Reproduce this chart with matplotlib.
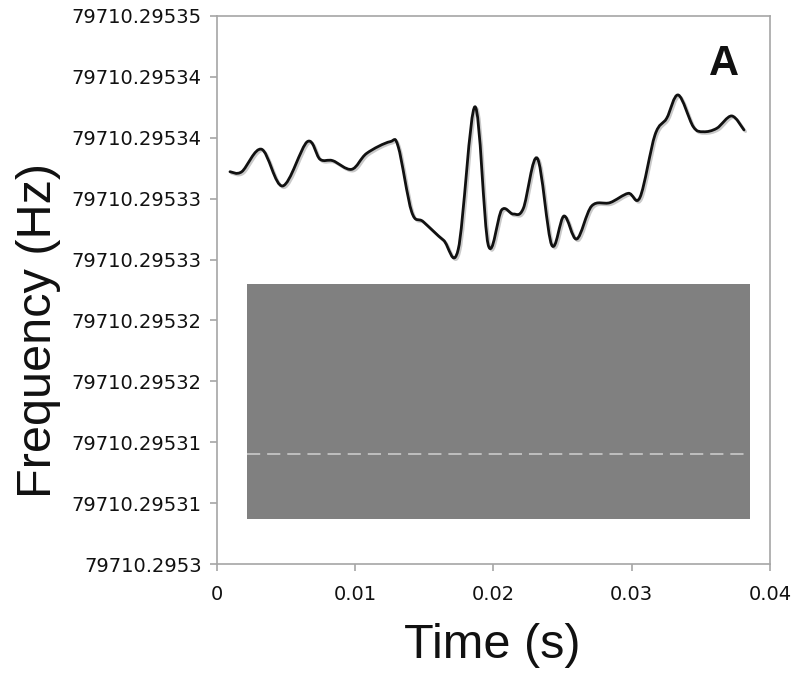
import matplotlib
matplotlib.use('Agg')
import matplotlib.pyplot as plt
import numpy as np
from matplotlib.path import Path
from matplotlib.patches import PathPatch
import matplotlib.patheffects as pe

# ---- data ----
base_hz = 79710.2953
time_s = [0.00094, 0.00179, 0.00323, 0.00475, 0.00653, 0.00745, 0.00837, 0.00974,
          0.01083, 0.01251, 0.01311, 0.01408, 0.01492, 0.01637, 0.01745, 0.01866,
          0.01962, 0.02059, 0.02143, 0.02216, 0.02317, 0.02421, 0.02510, 0.02602,
          0.02710, 0.02843, 0.02975, 0.03060, 0.03168, 0.03253, 0.03337, 0.03445,
          0.03518, 0.03615, 0.03723, 0.03812]
freq_offset_uHz = [35.79, 35.79, 37.84, 34.49, 38.53, 36.93, 36.80, 36.01,
                   37.47, 38.53, 38.07, 32.14, 31.23, 29.56, 28.71, 41.72,
                   29.11, 32.30, 31.93, 32.45, 37.02, 29.11, 31.75, 29.65,
                   32.66, 32.97, 33.82, 33.46, 39.14, 40.67, 42.79, 39.90,
                   39.44, 39.75, 40.88, 39.60]
band_time = [0.00217, 0.03855]
band_low_uHz = 4.11
band_high_uHz = 25.55
band_mean_uHz = 10.04

y_min_hz = 79710.29530
y_max_hz = 79710.29535
ytick_labels = ["79710.2953", "79710.29531", "79710.29531", "79710.29532",
                "79710.29532", "79710.29533", "79710.29533", "79710.29534",
                "79710.29534", "79710.29535"]
xticks = [0, 0.01, 0.02, 0.03, 0.04]
xtick_labels = ["0", "0.01", "0.02", "0.03", "0.04"]

freq = [base_hz + v * 1e-6 for v in freq_offset_uHz]

plt.rcParams['lines.scale_dashes'] = False

fig = plt.figure(figsize=(7.96, 6.77), dpi=100)
ax = fig.add_axes([0.2726, 0.1669, 0.6947, 0.8095])
ax.set_xlim(0, 0.04)
ax.set_ylim(y_min_hz, y_max_hz)

# grey band
ax.fill_between(band_time, [base_hz + band_low_uHz * 1e-6] * 2,
                [base_hz + band_high_uHz * 1e-6] * 2, color='#808080', lw=0, zorder=1)
ax.plot(band_time, [base_hz + band_mean_uHz * 1e-6] * 2, color='#c4c4c4',
        lw=1.3, dashes=(9.5, 5), zorder=2)

# smoothed line (Catmull-Rom rendered as Bezier curves)
P = np.column_stack([time_s, freq])
n = len(P)
verts = [P[0]]
codes = [Path.MOVETO]
for i in range(n - 1):
    p0 = P[i - 1] if i > 0 else P[i]
    p1 = P[i]
    p2 = P[i + 1]
    p3 = P[i + 2] if i + 2 < n else P[i + 1]
    c1 = p1 + (p2 - p0) / 6.0
    c2 = p2 - (p3 - p1) / 6.0
    verts += [c1, c2, p2]
    codes += [Path.CURVE4] * 3
path = Path(np.array(verts), codes)
patch = PathPatch(path, facecolor='none', edgecolor='#111111', lw=2.0, zorder=3,
                  capstyle='round', joinstyle='round')
patch.set_path_effects([pe.SimpleLineShadow(offset=(1.2, -1.2), shadow_color='#888888', alpha=0.45),
                        pe.Normal()])
ax.add_patch(patch)

# axes styling
for s in ax.spines.values():
    s.set_color('#a6a6a6')
    s.set_linewidth(1.2)
ax.set_yticks(np.linspace(y_min_hz, y_max_hz, len(ytick_labels)))
ax.set_yticklabels(ytick_labels)
ax.set_xticks(xticks)
ax.set_xticklabels(xtick_labels)
ax.tick_params(axis='both', direction='out', length=5, width=1.2, color='#a6a6a6',
               labelsize=14, labelcolor='#111111')
ax.tick_params(axis='y', pad=6)
ax.tick_params(axis='x', pad=10)

ax.text(0.917, 0.912, 'A', transform=ax.transAxes, ha='center', va='center',
        fontsize=30, family='Liberation Sans', fontweight='bold', color='#111111')

fig.text(0.618, 0.047, 'Time (s)', ha='center', va='center', fontsize=35,
         family='Liberation Sans', color='#111111')
fig.text(0.048, 0.512, 'Frequency (Hz)', ha='center', va='center', rotation=90,
         fontsize=35, family='Liberation Sans', color='#111111')

fig.savefig('out.png', dpi=100)
